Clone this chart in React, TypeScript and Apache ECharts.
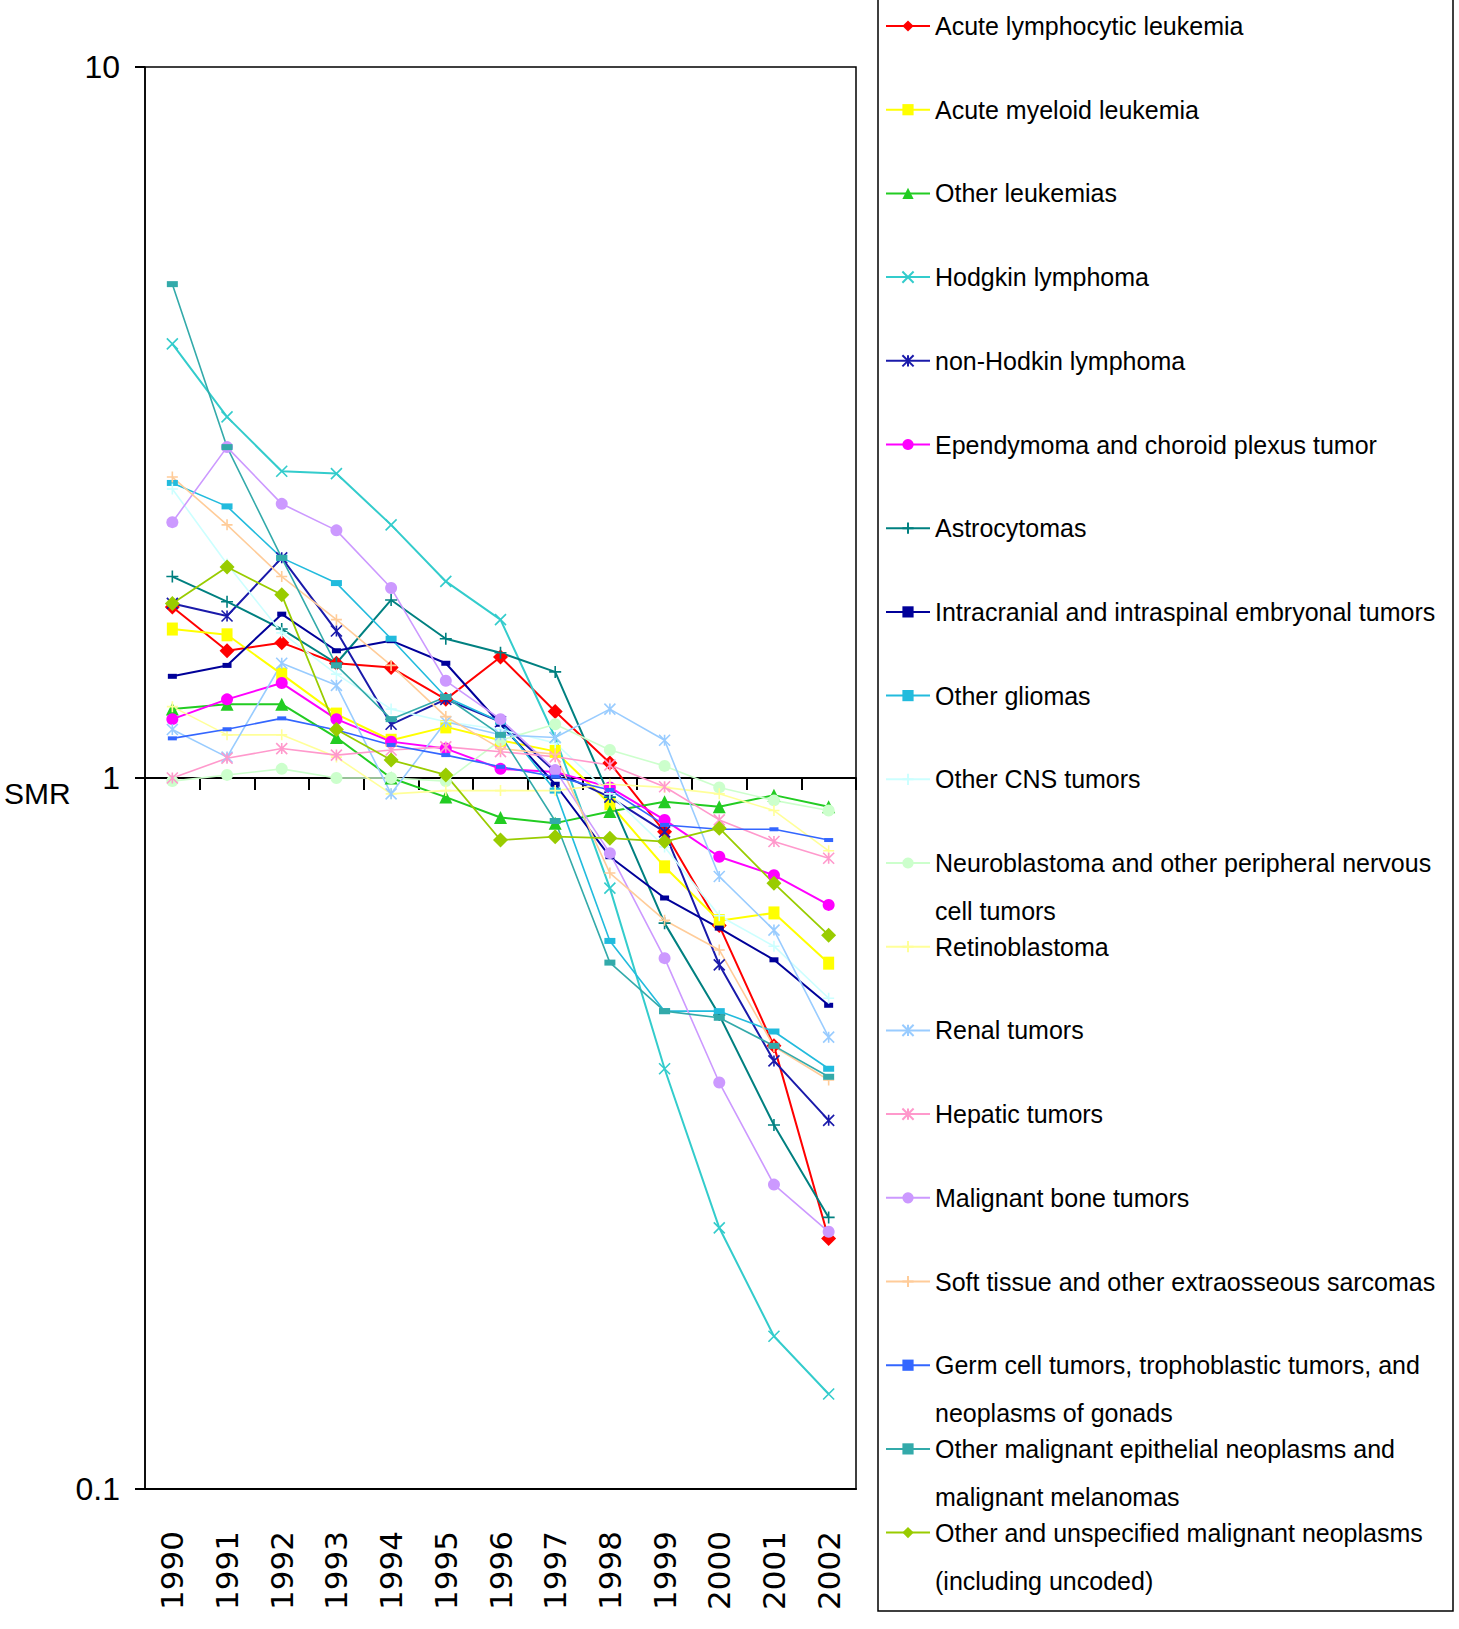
import React, { useEffect, useRef } from "react";
import * as echarts from "echarts";

// ---------- data ----------
const years = ["1990", "1991", "1992", "1993", "1994", "1995", "1996", "1997", "1998", "1999", "2000", "2001", "2002"];

const seriesNames = [
  "Acute lymphocytic leukemia",
  "Acute myeloid leukemia",
  "Other leukemias",
  "Hodgkin lymphoma",
  "non-Hodkin lymphoma",
  "Ependymoma and choroid plexus tumor",
  "Astrocytomas",
  "Intracranial and intraspinal embryonal tumors",
  "Other gliomas",
  "Other CNS tumors",
  "Neuroblastoma and other peripheral nervous cell tumors",
  "Retinoblastoma",
  "Renal tumors",
  "Hepatic tumors",
  "Malignant bone tumors",
  "Soft tissue and other extraosseous sarcomas",
  "Germ cell tumors, trophoblastic tumors, and neoplasms of gonads",
  "Other malignant epithelial neoplasms and malignant melanomas",
  "Other and unspecified malignant neoplasms (including uncoded)",
];

const legendLines: string[][] = [
  ["Acute lymphocytic leukemia"],
  ["Acute myeloid leukemia"],
  ["Other leukemias"],
  ["Hodgkin lymphoma"],
  ["non-Hodkin lymphoma"],
  ["Ependymoma and choroid plexus tumor"],
  ["Astrocytomas"],
  ["Intracranial and intraspinal embryonal tumors"],
  ["Other gliomas"],
  ["Other CNS tumors"],
  ["Neuroblastoma and other peripheral nervous", "cell tumors"],
  ["Retinoblastoma"],
  ["Renal tumors"],
  ["Hepatic tumors"],
  ["Malignant bone tumors"],
  ["Soft tissue and other extraosseous sarcomas"],
  ["Germ cell tumors, trophoblastic tumors, and", "neoplasms of gonads"],
  ["Other malignant epithelial neoplasms and", "malignant melanomas"],
  ["Other and unspecified malignant neoplasms", "(including uncoded)"],
];

const acuteLymphocytic = [1.74, 1.51, 1.55, 1.45, 1.43, 1.29, 1.48, 1.24, 1.05, 0.84, 0.62, 0.42, 0.225];
const acuteMyeloid = [1.62, 1.59, 1.4, 1.23, 1.13, 1.18, 1.13, 1.09, 0.92, 0.75, 0.63, 0.646, 0.549];
const otherLeukemias = [1.25, 1.27, 1.27, 1.14, 1.0, 0.94, 0.88, 0.864, 0.897, 0.926, 0.911, 0.946, 0.911];
const hodgkin = [4.08, 3.22, 2.7, 2.68, 2.27, 1.89, 1.67, 1.14, 0.7, 0.39, 0.233, 0.164, 0.136];
const nonHodgkin = [1.76, 1.69, 2.04, 1.61, 1.19, 1.29, 1.2, 1.02, 0.94, 0.84, 0.546, 0.4, 0.33];
const ependymoma = [1.21, 1.29, 1.36, 1.21, 1.125, 1.1, 1.03, 1.02, 0.97, 0.873, 0.775, 0.73, 0.663];
const astrocytomas = [1.92, 1.77, 1.62, 1.45, 1.78, 1.57, 1.5, 1.41, 0.94, 0.625, 0.464, 0.325, 0.241];
const intracranial = [1.39, 1.44, 1.7, 1.51, 1.56, 1.45, 1.19, 0.98, 0.775, 0.678, 0.615, 0.555, 0.479];
const otherGliomas = [2.6, 2.41, 2.04, 1.88, 1.57, 1.3, 1.2, 0.96, 0.59, 0.47, 0.47, 0.44, 0.39];
const otherCns = [2.55, 2.0, 1.6, 1.4, 1.25, 1.2, 1.17, 1.12, 0.95, 0.8, 0.64, 0.58, 0.49];
const neuroblastoma = [0.99, 1.01, 1.03, 1.0, 1.0, 0.99, 1.13, 1.19, 1.095, 1.04, 0.97, 0.93, 0.9];
const retinoblastoma = [1.26, 1.15, 1.15, 1.07, 0.95, 0.96, 0.96, 0.96, 0.98, 0.97, 0.95, 0.9, 0.79];
const renal = [1.17, 1.07, 1.45, 1.35, 0.95, 1.2, 1.15, 1.14, 1.25, 1.13, 0.727, 0.611, 0.432];
const hepatic = [1.0, 1.066, 1.1, 1.077, 1.095, 1.106, 1.089, 1.071, 1.043, 0.972, 0.873, 0.814, 0.771];
const malignantBone = [2.29, 2.92, 2.43, 2.23, 1.85, 1.37, 1.21, 1.026, 0.784, 0.558, 0.373, 0.268, 0.23];
const softTissue = [2.65, 2.27, 1.92, 1.67, 1.44, 1.22, 1.1, 1.08, 0.735, 0.631, 0.573, 0.419, 0.376];
const germCell = [1.137, 1.171, 1.213, 1.168, 1.113, 1.077, 1.037, 1.004, 0.962, 0.859, 0.847, 0.847, 0.818];
const otherEpithelial = [4.95, 2.92, 2.04, 1.44, 1.21, 1.3, 1.15, 0.87, 0.55, 0.47, 0.46, 0.42, 0.38];
const otherUnspecified = [1.76, 1.98, 1.81, 1.17, 1.06, 1.01, 0.818, 0.827, 0.823, 0.814, 0.85, 0.711, 0.601];

const seriesValues = [
  acuteLymphocytic, acuteMyeloid, otherLeukemias, hodgkin, nonHodgkin, ependymoma, astrocytomas,
  intracranial, otherGliomas, otherCns, neuroblastoma, retinoblastoma, renal, hepatic,
  malignantBone, softTissue, germCell, otherEpithelial, otherUnspecified,
];

// ---------- styles ----------
const X_PATH = "path://M0,0L10,10M10,0L0,10";
const PLUS_PATH = "path://M5,0L5,10M0,5L10,5";
const STAR_PATH = "path://M0,0L10,10M10,0L0,10M5,0L5,10";

type Sty = { color: string; symbol: string; size: number | number[]; stroke: boolean; width: number };
const styles: Sty[] = [
  { color: "#FF0000", symbol: "diamond", size: 15, stroke: false, width: 2 },
  { color: "#FFFF00", symbol: "rect", size: [11, 13], stroke: false, width: 2 },
  { color: "#22CC22", symbol: "triangle", size: 13, stroke: false, width: 2 },
  { color: "#33CCCC", symbol: X_PATH, size: 11, stroke: true, width: 2 },
  { color: "#1A1AAA", symbol: STAR_PATH, size: 11, stroke: true, width: 2 },
  { color: "#FF00FF", symbol: "circle", size: 12, stroke: false, width: 2 },
  { color: "#008080", symbol: PLUS_PATH, size: 12, stroke: true, width: 2 },
  { color: "#000099", symbol: "rect", size: [9, 5], stroke: false, width: 2 },
  { color: "#22BBDD", symbol: "rect", size: [11, 6], stroke: false, width: 1.6 },
  { color: "#CCFFFF", symbol: PLUS_PATH, size: 11, stroke: true, width: 1.6 },
  { color: "#CCFFCC", symbol: "circle", size: 12, stroke: false, width: 1.6 },
  { color: "#FFFF99", symbol: PLUS_PATH, size: 11, stroke: true, width: 1.6 },
  { color: "#99CCFF", symbol: STAR_PATH, size: 11, stroke: true, width: 1.6 },
  { color: "#FF99CC", symbol: STAR_PATH, size: 11, stroke: true, width: 1.6 },
  { color: "#CC99FF", symbol: "circle", size: 12, stroke: false, width: 1.6 },
  { color: "#FFCC99", symbol: PLUS_PATH, size: 11, stroke: true, width: 1.6 },
  { color: "#3366FF", symbol: "rect", size: [9, 4], stroke: false, width: 1.6 },
  { color: "#33AAAA", symbol: "rect", size: [11, 6], stroke: false, width: 1.6 },
  { color: "#99CC00", symbol: "diamond", size: 15, stroke: false, width: 1.8 },
];

const FONT = "Liberation Sans";

export default function App() {
  const ref = useRef<HTMLDivElement>(null);

  useEffect(() => {
    if (!ref.current) return;
    const chart = echarts.init(ref.current, null, { renderer: "svg" });

    const series = seriesNames.map((name, i) => {
      const s = styles[i];
      return {
        name,
        type: "line",
        data: seriesValues[i],
        symbol: s.symbol,
        symbolSize: s.size,
        showSymbol: true,
        lineStyle: { color: s.color, width: s.width },
        itemStyle: s.stroke
          ? { color: s.color, borderColor: s.color, borderWidth: 1.6 }
          : { color: s.color, borderWidth: 0 },
        emphasis: { disabled: true },
      };
    });

    const LEG_C0 = 26;
    const LEG_STEP = 83.7;
    const LH = 48;
    const legends = seriesNames.map((name, i) => {
      const lines = legendLines[i];
      const two = lines.length > 1;
      const c = LEG_C0 + LEG_STEP * i;
      return {
        data: [name],
        left: 885,
        top: two ? c - (3 * LH) / 2 : c - 15,
        orient: "vertical",
        padding: 0,
        itemWidth: 44,
        itemHeight: 14,
        formatter: () => (two ? "\n" + lines.join("\n") : lines[0]),
        textStyle: {
          fontSize: 25,
          fontFamily: FONT,
          color: "#000",
          lineHeight: two ? LH : 30,
        },
      };
    });

    chart.setOption({
      animation: false,
      backgroundColor: "#ffffff",
      grid: {
        left: 145,
        top: 67,
        width: 711,
        height: 1422,
        show: true,
        borderColor: "#000",
        borderWidth: 1.5,
        containLabel: false,
        outerBoundsMode: "none",
      },
      legend: legends,
      xAxis: [
        {
          type: "category",
          data: years,
          position: "bottom",
          boundaryGap: true,
          axisLine: { show: true, onZero: false, lineStyle: { color: "#000", width: 2 } },
          axisTick: { show: false },
          axisLabel: { rotate: 90, margin: 42, fontSize: 31, fontFamily: "DejaVu Sans", color: "#000", interval: 0 },
          splitLine: { show: false },
        },
        {
          type: "category",
          data: years,
          position: "bottom",
          offset: -711,
          boundaryGap: true,
          axisLine: { show: true, onZero: false, lineStyle: { color: "#000", width: 2 } },
          axisTick: { show: true, length: 12, interval: 0, lineStyle: { color: "#000", width: 2 } },
          axisLabel: { show: false },
          splitLine: { show: false },
        },
      ],
      yAxis: {
        type: "log",
        logBase: 10,
        min: 0.1,
        max: 10,
        axisLine: { show: true, lineStyle: { color: "#000", width: 1.5 } },
        axisTick: { show: true, length: 10, lineStyle: { color: "#000", width: 2 } },
        axisLabel: { margin: 25, fontSize: 32, fontFamily: FONT, color: "#000" },
        splitLine: { show: false },
        name: "SMR",
        nameLocation: "middle",
        nameRotate: 0,
        nameGap: 65,
        nameTextStyle: { fontSize: 30, fontFamily: FONT, color: "#000", verticalAlign: "top" },
      },
      graphic: [
        {
          type: "rect",
          silent: true,
          shape: { x: 878, y: -2, width: 575, height: 1613 },
          style: { fill: "none", stroke: "#000", lineWidth: 1.5 },
        },
      ],
      series,
    });

    return () => chart.dispose();
  }, []);

  return (
    <div
      ref={ref}
      style={{ position: "absolute", left: 0, top: 0, width: 1459, height: 1629 }}
    />
  );
}
